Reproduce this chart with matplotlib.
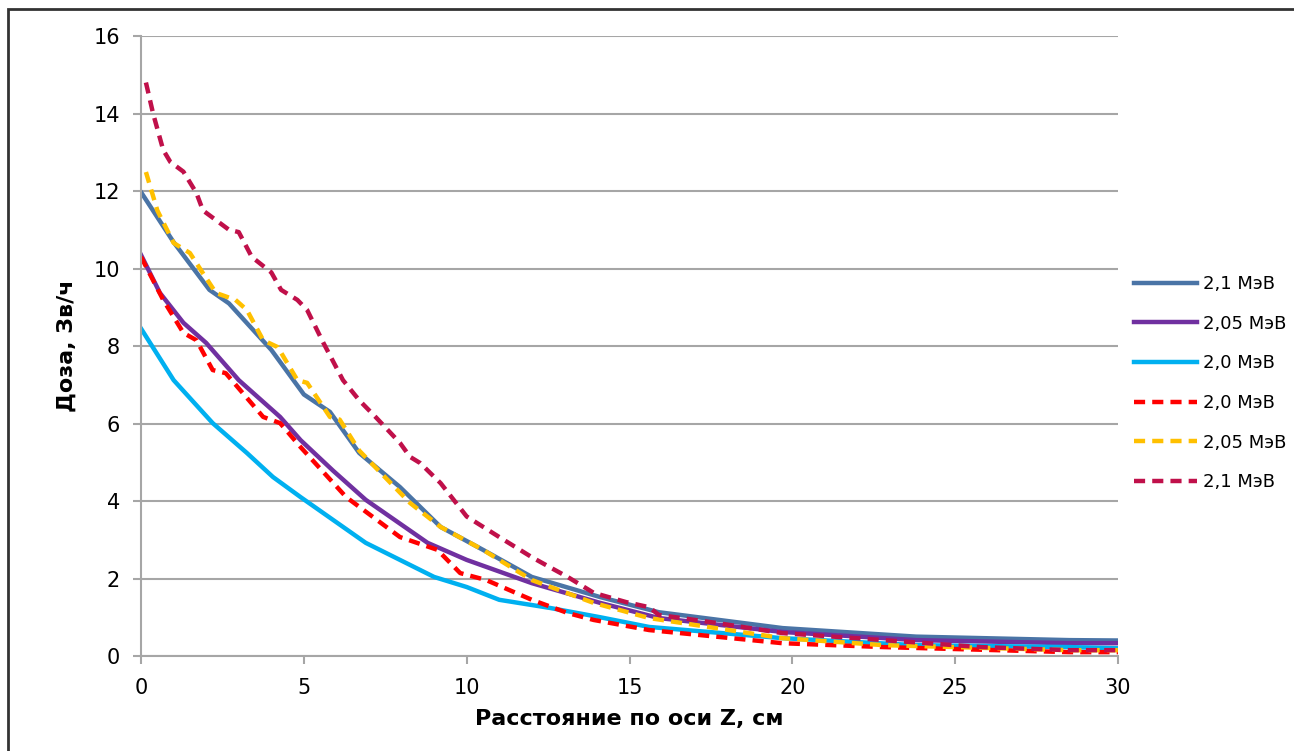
import matplotlib
matplotlib.use("Agg")
import matplotlib.pyplot as plt
from matplotlib.patches import Rectangle

# --- data (x in cm, dose in Sv/h) ---
x_blue = [0, 1.0, 2.1, 2.7, 4.0, 5.0, 5.8, 6.7, 7.95, 9.2, 10.5, 12.0, 14.1, 15.9, 19.7, 23.8, 28.5, 30]
y_blue = [11.97, 10.68, 9.45, 9.1, 7.9, 6.75, 6.3, 5.24, 4.36, 3.33, 2.74, 2.04, 1.52, 1.13, 0.72, 0.5, 0.41, 0.4]

x_purple = [0, 0.58, 1.3, 2.0, 3.0, 4.27, 4.9, 5.9, 6.9, 8.8, 10.0, 12.0, 14.1, 15.9, 19.7, 23.8, 28.5, 30]
y_purple = [10.35, 9.37, 8.6, 8.08, 7.12, 6.17, 5.57, 4.78, 4.03, 2.92, 2.48, 1.88, 1.37, 0.98, 0.62, 0.41, 0.33, 0.33]

x_cyan = [0, 1.0, 2.2, 3.25, 4.05, 4.9, 6.9, 9.0, 10.0, 11.0, 12.56, 14.1, 15.6, 19.7, 23.8, 28.5, 30]
y_cyan = [8.45, 7.12, 6.01, 5.24, 4.62, 4.1, 2.92, 2.04, 1.78, 1.45, 1.24, 1.0, 0.75, 0.46, 0.28, 0.23, 0.2]

x_red = [0, 0.68, 1.3, 1.7, 2.2, 2.6, 3.75, 4.27, 4.9, 6.3, 7.95, 9.1, 9.8, 10.6, 12.0, 13.1, 13.9, 15.6, 19.7, 22.8, 28.5, 30]
y_red = [10.3, 9.19, 8.34, 8.15, 7.38, 7.3, 6.17, 6.01, 5.39, 4.1, 3.07, 2.74, 2.14, 1.96, 1.45, 1.11, 0.93, 0.67, 0.33, 0.23, 0.1, 0.1]

x_yellow = [0.15, 0.5, 1.0, 1.5, 1.9, 2.3, 2.9, 3.25, 3.75, 4.2, 4.8, 5.1, 5.8, 6.1, 6.7, 8.26, 9.2, 10.5, 12.0, 13.9, 15.6, 19.7, 22.8, 28.5, 30]
y_yellow = [12.49, 11.5, 10.66, 10.4, 9.88, 9.37, 9.19, 8.93, 8.15, 7.97, 7.12, 7.05, 6.17, 6.1, 5.3, 3.95, 3.33, 2.74, 1.96, 1.37, 0.98, 0.46, 0.28, 0.15, 0.15]

x_crimson = [0.15, 0.37, 0.68, 0.9, 1.3, 1.7, 1.9, 2.7, 3.0, 3.4, 4.0, 4.3, 4.8, 5.1, 5.6, 6.2, 6.7, 7.2, 7.95, 8.26, 8.57, 9.2, 10.0, 11.0, 12.0, 12.6, 13.1, 13.9, 14.9, 15.6, 15.9, 17.7, 19.7, 22.8, 25.8, 28.5, 30]
y_crimson = [14.8, 14.0, 13.06, 12.75, 12.5, 11.95, 11.5, 11.0, 10.94, 10.3, 9.9, 9.45, 9.19, 8.93, 8.08, 7.12, 6.6, 6.17, 5.5, 5.14, 4.98, 4.46, 3.6, 3.07, 2.55, 2.27, 2.04, 1.63, 1.39, 1.26, 1.06, 0.85, 0.59, 0.41, 0.23, 0.15, 0.15]

labels = ["2,1 МэВ", "2,05 МэВ", "2,0 МэВ", "2,0 МэВ", "2,05 МэВ", "2,1 МэВ"]

plt.rcParams['font.family'] = ['DejaVu Sans']

fig = plt.figure(figsize=(12.94, 7.51), dpi=100)
ax = fig.add_axes([0.109, 0.1265, 0.755, 0.8255])

lw = 3.2
dash = (0, (2.5, 1.6))
ax.plot(x_blue, y_blue, color='#4A74A6', lw=lw, label=labels[0])
ax.plot(x_purple, y_purple, color='#7030A0', lw=lw, label=labels[1])
ax.plot(x_cyan, y_cyan, color='#00B0F0', lw=lw, label=labels[2])
ax.plot(x_red, y_red, color='#FF0000', lw=lw, ls=dash, label=labels[3])
ax.plot(x_yellow, y_yellow, color='#FFC000', lw=lw, ls=dash, label=labels[4])
ax.plot(x_crimson, y_crimson, color='#C0104A', lw=lw, ls=dash, label=labels[5])

ax.set_xlim(0, 30)
ax.set_ylim(0, 16)
ax.set_xticks(range(0, 31, 5))
ax.set_yticks(range(0, 17, 2))
ax.yaxis.grid(True, color='#A6A6A6', lw=1.5)
ax.set_axisbelow(True)
for s in ['top', 'right']:
    ax.spines[s].set_visible(False)
for s in ['left', 'bottom']:
    ax.spines[s].set_color('#A6A6A6')
    ax.spines[s].set_linewidth(1.5)
ax.tick_params(axis='both', colors='#A6A6A6', labelcolor='black', labelsize=15,
               length=6, width=1.5)
ax.tick_params(axis='y', pad=9)
ax.tick_params(axis='x', pad=10)

ax.set_xlabel('Расстояние по оси Z, см', fontsize=16, fontweight='bold', labelpad=8)
ax.set_ylabel('Доза, Зв/ч', fontsize=16, fontweight='bold', labelpad=12)

ax.legend(loc='center left', bbox_to_anchor=(1.0, 0.44), frameon=False,
          fontsize=13, handlelength=3.5, handletextpad=0.3, labelspacing=1.2)

# outer frame (only top and left visible in the reference crop)
fig.add_artist(Rectangle((8 / 1294, -0.5), 2, 1.5 - 9 / 751, transform=fig.transFigure,
                         fill=False, edgecolor='#333333', lw=2, clip_on=False))

fig.savefig('out.png', dpi=100)
